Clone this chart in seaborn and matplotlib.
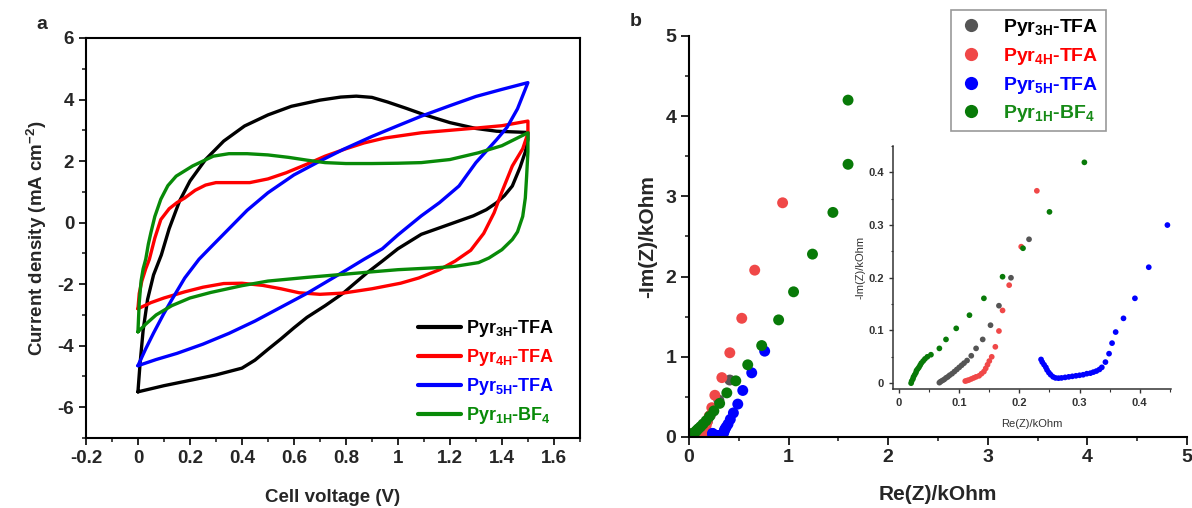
import numpy as np
import pandas as pd
import matplotlib
matplotlib.use("Agg")
import matplotlib.pyplot as plt
import seaborn as sns
from matplotlib.ticker import MultipleLocator, FuncFormatter

# ---- panel a: cyclic voltammograms (V, mA cm-2) ----
cv_names = ["Pyr$_{3H}$-TFA", "Pyr$_{4H}$-TFA", "Pyr$_{5H}$-TFA", "Pyr$_{1H}$-BF$_4$"]
cv_colors = ["#000000", "#ff0000", "#0000ff", "#088a08"]

pyr3h_v = [0.0, 0.008, 0.02, 0.037, 0.06, 0.09, 0.12, 0.16, 0.2, 0.26, 0.33, 0.41, 0.5, 0.59, 0.7,
           0.78, 0.84, 0.9, 0.96, 1.03, 1.1, 1.2, 1.3, 1.38, 1.5,
           1.5, 1.49, 1.47, 1.44, 1.41, 1.38, 1.34, 1.29, 1.2, 1.09, 1.0, 0.94, 0.88, 0.83, 0.79,
           0.72, 0.65, 0.6, 0.55, 0.5, 0.45, 0.4, 0.3, 0.21, 0.1, 0.0]
pyr3h_j = [-5.5, -4.6, -3.5, -2.5, -1.7, -1.05, -0.2, 0.7, 1.35, 2.05, 2.65, 3.14, 3.5, 3.78, 3.98,
           4.08, 4.11, 4.07, 3.92, 3.72, 3.51, 3.25, 3.06, 2.97, 2.93,
           2.7, 2.3, 1.8, 1.19, 0.88, 0.65, 0.42, 0.22, -0.05, -0.38, -0.85, -1.25, -1.64, -2.0, -2.29,
           -2.7, -3.08, -3.42, -3.78, -4.12, -4.47, -4.73, -4.95, -5.11, -5.3, -5.5]

pyr4h_v = [0.0, 0.005, 0.015, 0.03, 0.044, 0.065, 0.088, 0.12, 0.15, 0.18, 0.22, 0.26, 0.3, 0.36,
           0.43, 0.5, 0.57, 0.65, 0.72, 0.8, 0.87, 0.95, 1.09, 1.2, 1.31, 1.4, 1.5,
           1.5, 1.48, 1.44, 1.4, 1.37, 1.33, 1.28, 1.22, 1.16, 1.08, 1.01, 0.9, 0.79, 0.7, 0.62,
           0.55, 0.48, 0.4, 0.33, 0.25, 0.18, 0.1, 0.05, 0.0]
pyr4h_j = [-2.8, -2.3, -1.9, -1.5, -1.19, -0.5, 0.1, 0.45, 0.65, 0.8, 1.05, 1.22, 1.3, 1.3,
           1.3, 1.42, 1.62, 1.9, 2.16, 2.4, 2.59, 2.75, 2.92, 3.0, 3.08, 3.15, 3.3,
           2.9, 2.4, 1.84, 1.0, 0.32, -0.35, -0.9, -1.25, -1.53, -1.8, -1.97, -2.15, -2.29, -2.33, -2.28,
           -2.15, -2.04, -1.97, -1.98, -2.1, -2.25, -2.45, -2.6, -2.8]

pyr5h_v = [0.0, 0.03, 0.06, 0.1, 0.13, 0.18, 0.235, 0.28, 0.35, 0.42, 0.5, 0.6, 0.7, 0.79, 0.9,
           1.0, 1.09, 1.2, 1.3, 1.4, 1.5,
           1.46, 1.42, 1.38, 1.3, 1.235, 1.16, 1.09, 1.0, 0.94, 0.87, 0.8, 0.72, 0.65, 0.55,
           0.45, 0.35, 0.25, 0.15, 0.07, 0.0]
pyr5h_j = [-4.65, -4.1, -3.59, -2.95, -2.51, -1.8, -1.19, -0.8, -0.2, 0.4, 0.97, 1.55, 2.0, 2.38, 2.8,
           3.15, 3.46, 3.8, 4.1, 4.33, 4.55,
           3.7, 3.1, 2.7, 1.95, 1.19, 0.65, 0.22, -0.4, -0.85, -1.19, -1.55, -1.95, -2.3, -2.75,
           -3.2, -3.6, -3.95, -4.25, -4.45, -4.65]

pyr1h_v = [0.0, 0.005, 0.012, 0.02, 0.03, 0.04, 0.05, 0.065, 0.088, 0.115, 0.147, 0.21, 0.29, 0.35,
           0.42, 0.5, 0.58, 0.65, 0.72, 0.8, 0.9, 1.0, 1.09, 1.2, 1.31, 1.4, 1.5,
           1.5, 1.495, 1.49, 1.48, 1.46, 1.44, 1.4, 1.35, 1.31, 1.22, 1.16, 1.0, 0.9, 0.79, 0.65,
           0.5, 0.4, 0.28, 0.2, 0.13, 0.07, 0.03, 0.0]
pyr1h_j = [-3.55, -2.6, -1.9, -1.5, -1.19, -0.7, -0.32, 0.2, 0.76, 1.2, 1.51, 1.84, 2.16, 2.24,
           2.24, 2.2, 2.12, 2.03, 1.95, 1.92, 1.92, 1.93, 1.95, 2.05, 2.27, 2.5, 2.92,
           2.3, 1.5, 0.8, 0.2, -0.3, -0.55, -0.88, -1.15, -1.3, -1.42, -1.46, -1.53, -1.6, -1.68, -1.78,
           -1.9, -2.05, -2.27, -2.45, -2.7, -3.0, -3.3, -3.55]

# ---- panel b: Nyquist plots (kOhm) ----
eis_names = cv_names
marker_colors = ["#555555", "#f04848", "#0000ff", "#087a08"]
text_colors = ["#000000", "#ff0000", "#0000ff", "#168a16"]

pyr3h_re = [0.067, 0.069, 0.072, 0.075, 0.078, 0.081, 0.084, 0.088, 0.092, 0.096, 0.100, 0.104,
            0.108, 0.113, 0.120, 0.128, 0.139, 0.152, 0.166, 0.186, 0.216, 0.30, 0.41]
pyr3h_im = [0.001, 0.003, 0.005, 0.007, 0.010, 0.012, 0.015, 0.018, 0.022, 0.026, 0.030, 0.034,
            0.038, 0.043, 0.052, 0.066, 0.083, 0.110, 0.147, 0.200, 0.273, 0.46, 0.71]

pyr4h_re = [0.110, 0.113, 0.116, 0.120, 0.124, 0.128, 0.133, 0.137, 0.141, 0.144, 0.147, 0.150,
            0.154, 0.160, 0.166, 0.172, 0.183, 0.203, 0.229, 0.26, 0.33, 0.41, 0.53, 0.66, 0.94]
pyr4h_im = [0.004, 0.005, 0.006, 0.008, 0.010, 0.012, 0.014, 0.018, 0.022, 0.028, 0.035, 0.042,
            0.050, 0.069, 0.099, 0.138, 0.186, 0.259, 0.365, 0.52, 0.74, 1.05, 1.48, 2.08, 2.92]

pyr5h_re = [0.236, 0.238, 0.241, 0.244, 0.246, 0.249, 0.252, 0.256, 0.260, 0.265, 0.270, 0.276,
            0.282, 0.288, 0.294, 0.300, 0.306, 0.312, 0.318, 0.323, 0.328, 0.333, 0.337, 0.343,
            0.349, 0.354, 0.360, 0.373, 0.392, 0.415, 0.446, 0.49, 0.54, 0.63, 0.76]
pyr5h_im = [0.045, 0.040, 0.035, 0.030, 0.025, 0.020, 0.016, 0.012, 0.010, 0.0095, 0.010, 0.011,
            0.012, 0.013, 0.014, 0.015, 0.016, 0.018, 0.019, 0.021, 0.023, 0.026, 0.030, 0.040,
            0.056, 0.076, 0.097, 0.123, 0.161, 0.220, 0.300, 0.41, 0.58, 0.80, 1.07]

pyr1h_re = [0.020, 0.021, 0.023, 0.024, 0.026, 0.028, 0.029, 0.031, 0.033, 0.035, 0.037, 0.040,
            0.043, 0.047, 0.053, 0.067, 0.078, 0.095, 0.117, 0.141, 0.172, 0.206, 0.250, 0.308,
            0.38, 0.47, 0.59, 0.73, 0.90, 1.05, 1.24, 1.445, 1.597, 1.597]
pyr1h_im = [0.000, 0.004, 0.008, 0.012, 0.016, 0.020, 0.024, 0.027, 0.030, 0.034, 0.038, 0.042,
            0.046, 0.050, 0.054, 0.066, 0.083, 0.104, 0.129, 0.161, 0.202, 0.256, 0.325, 0.419,
            0.55, 0.70, 0.90, 1.14, 1.46, 1.81, 2.28, 2.80, 3.40, 4.20]

cv_df = pd.concat([
    pd.DataFrame({"V": v, "J": j, "sample": n})
    for n, v, j in zip(cv_names, [pyr3h_v, pyr4h_v, pyr5h_v, pyr1h_v],
                       [pyr3h_j, pyr4h_j, pyr5h_j, pyr1h_j])
], ignore_index=True)

eis_df = pd.concat([
    pd.DataFrame({"Re": r, "Im": i, "sample": n})
    for n, r, i in zip(eis_names, [pyr3h_re, pyr4h_re, pyr5h_re, pyr1h_re],
                       [pyr3h_im, pyr4h_im, pyr5h_im, pyr1h_im])
], ignore_index=True)

# ---- style ----
sns.set_theme(style="ticks")
plt.rcParams["font.family"] = ["Liberation Sans", "DejaVu Sans"]
plt.rcParams["font.weight"] = "bold"
plt.rcParams["axes.labelweight"] = "bold"
plt.rcParams["axes.unicode_minus"] = False
plt.rcParams["lines.solid_joinstyle"] = "round"
plt.rcParams["mathtext.fontset"] = "custom"
plt.rcParams["mathtext.rm"] = "Liberation Sans:bold"
plt.rcParams["mathtext.bf"] = "Liberation Sans:bold"
plt.rcParams["mathtext.it"] = "Liberation Sans:bold"
plt.rcParams["mathtext.default"] = "rm"

fmt_g = FuncFormatter(lambda x, p: f"{x:g}")

fig = plt.figure(figsize=(11.92, 5.08), dpi=100)
ax_a = fig.add_axes([0.0721, 0.1378, 0.4144, 0.7874])
ax_b = fig.add_axes([0.578, 0.1398, 0.4178, 0.7894])
ax_in = fig.add_axes([0.7492, 0.2343, 0.2332, 0.4783])

# panel a
sns.lineplot(data=cv_df, x="V", y="J", hue="sample", palette=cv_colors, sort=False,
             estimator=None, linewidth=2.4, ax=ax_a)
ax_a.set_xlim(-0.2, 1.7)
ax_a.set_ylim(-7, 6)
ax_a.xaxis.set_major_locator(MultipleLocator(0.2))
ax_a.xaxis.set_minor_locator(MultipleLocator(0.1))
ax_a.yaxis.set_major_locator(MultipleLocator(2))
ax_a.yaxis.set_minor_locator(MultipleLocator(1))
ax_a.xaxis.set_major_formatter(fmt_g)
ax_a.set_xlabel("Cell voltage (V)", fontsize=13.5, labelpad=16)
ax_a.set_ylabel("Current density (mA cm$^{-2}$)", fontsize=13.5, labelpad=6)
ax_a.tick_params(which="major", length=5, width=1.4, labelsize=13.5, direction="out")
ax_a.tick_params(which="minor", length=3, width=1.2, direction="out")
for sp in ax_a.spines.values():
    sp.set_linewidth(1.5)
    sp.set_color("black")

leg_a = ax_a.get_legend()
h_a = leg_a.legend_handles
l_a = [t.get_text() for t in leg_a.get_texts()]
leg_a = ax_a.legend(h_a, l_a, loc="lower left", bbox_to_anchor=(0.665, 0.02), frameon=False,
                    fontsize=13, handlelength=2.4, handletextpad=0.25, labelspacing=0.45,
                    borderpad=0.2, borderaxespad=0)
for h in leg_a.legend_handles:
    h.set_linewidth(3)
for t, c in zip(leg_a.get_texts(), cv_colors):
    t.set_color(c)

# panel b main
sns.scatterplot(data=eis_df, x="Re", y="Im", hue="sample", palette=marker_colors, s=62,
                linewidth=0, ax=ax_b)
ax_b.set_xlim(0, 5)
ax_b.set_ylim(0, 5)
ax_b.xaxis.set_major_locator(MultipleLocator(1))
ax_b.xaxis.set_minor_locator(MultipleLocator(0.5))
ax_b.yaxis.set_major_locator(MultipleLocator(1))
ax_b.yaxis.set_minor_locator(MultipleLocator(0.5))
ax_b.set_xlabel("Re(Z)/kOhm", fontsize=15, labelpad=13)
ax_b.set_ylabel("-Im(Z)/kOhm", fontsize=15, labelpad=6)
ax_b.tick_params(which="major", length=5.5, width=1.4, labelsize=14, direction="out")
ax_b.tick_params(which="minor", length=3, width=1.2, direction="out")
sns.despine(ax=ax_b)
for sp in ["left", "bottom"]:
    ax_b.spines[sp].set_linewidth(1.5)
    ax_b.spines[sp].set_color("black")

leg_b = ax_b.get_legend()
h_b = leg_b.legend_handles
l_b = [t.get_text() for t in leg_b.get_texts()]
leg_b = ax_b.legend(h_b, l_b, loc="upper left", bbox_to_anchor=(0.7978, 0.980),
                    bbox_transform=fig.transFigure, fontsize=14, frameon=True, fancybox=False,
                    edgecolor="#999999", framealpha=1, handlelength=1.4, handletextpad=0.95,
                    labelspacing=0.4, borderpad=0.35, borderaxespad=0)
leg_b.get_frame().set_linewidth(1.2)
for h in leg_b.legend_handles:
    try:
        h.set_markersize(9.5)
    except AttributeError:
        h.set_sizes([80])
for t, c in zip(leg_b.get_texts(), text_colors):
    t.set_color(c)

# inset
sns.scatterplot(data=eis_df, x="Re", y="Im", hue="sample", palette=marker_colors, s=17,
                linewidth=0, ax=ax_in, legend=False)
ax_in.set_xlim(-0.01, 0.452)
ax_in.set_ylim(-0.011, 0.45)
ax_in.xaxis.set_major_locator(MultipleLocator(0.1))
ax_in.xaxis.set_minor_locator(MultipleLocator(0.05))
ax_in.yaxis.set_major_locator(MultipleLocator(0.1))
ax_in.yaxis.set_minor_locator(MultipleLocator(0.05))
ax_in.xaxis.set_major_formatter(fmt_g)
ax_in.yaxis.set_major_formatter(fmt_g)
ax_in.set_xlabel("Re(Z)/kOhm", fontsize=8, fontweight="normal", color="#333333", labelpad=8)
ax_in.set_ylabel("-Im(Z)/kOhm", fontsize=8, fontweight="normal", color="#333333", labelpad=2)
ax_in.tick_params(which="major", length=3, width=1, labelsize=8, direction="out",
                  colors="#333333")
ax_in.tick_params(which="minor", length=1.8, width=0.8, direction="out", colors="#333333")
ax_in.patch.set_alpha(0)
sns.despine(ax=ax_in)
for sp in ["left", "bottom"]:
    ax_in.spines[sp].set_linewidth(1.1)
    ax_in.spines[sp].set_color("#333333")

fig.text(0.0352, 0.952, "a", fontsize=14, fontweight="bold", ha="center", va="center")
fig.text(0.5336, 0.957, "b", fontsize=14, fontweight="bold", ha="center", va="center")

fig.savefig("out.png", dpi=100)
